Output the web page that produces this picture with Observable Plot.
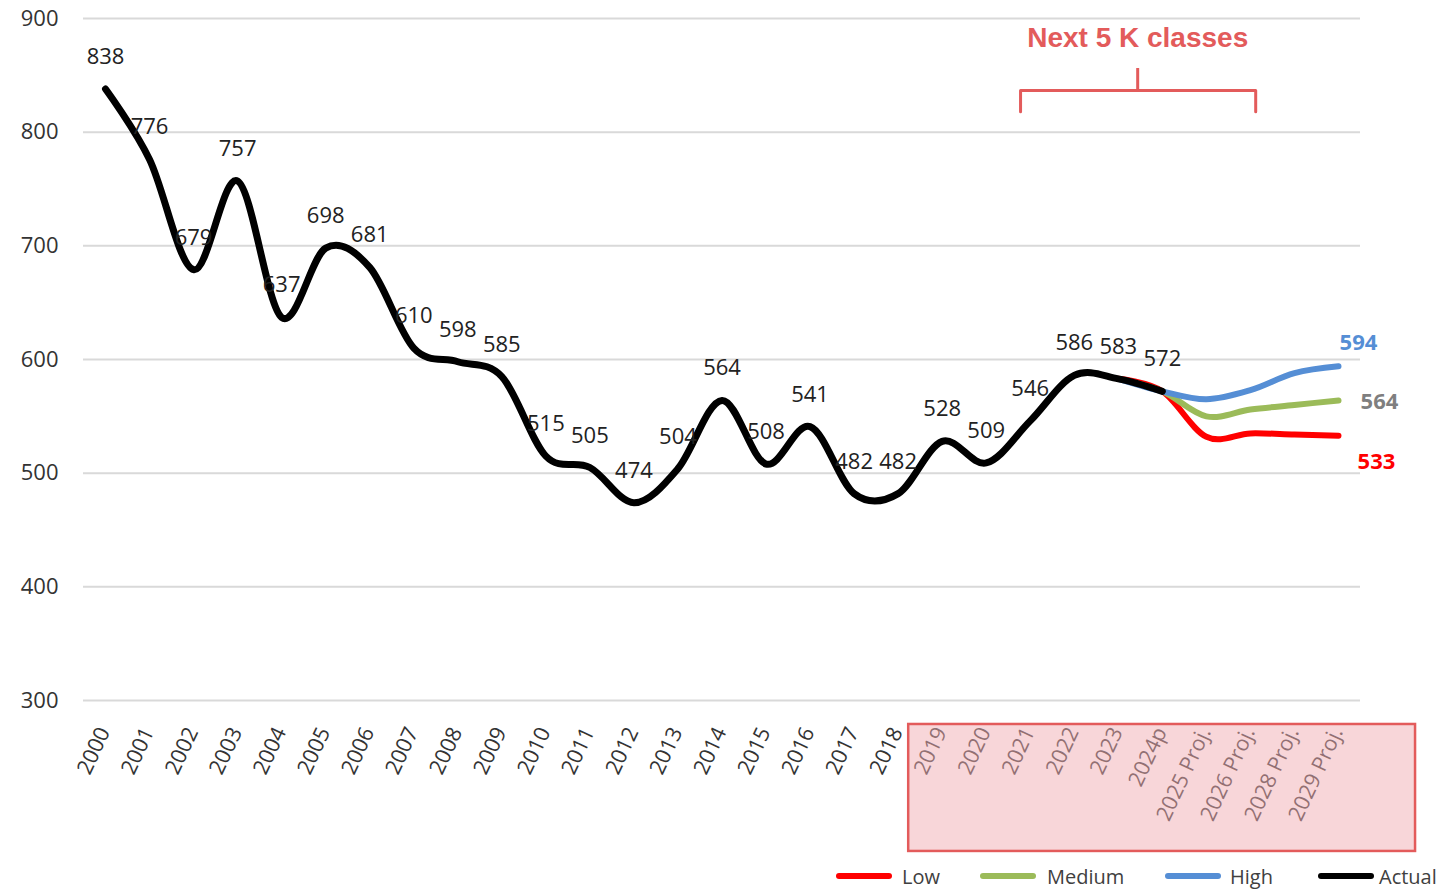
<!DOCTYPE html>
<html>
<head>
<meta charset="utf-8">
<script src="https://cdn.jsdelivr.net/npm/d3@7"></script>
<script src="https://cdn.jsdelivr.net/npm/@observablehq/plot@0.6"></script>
<style>
  html, body { margin: 0; padding: 0; background: #fff; }
  #wrap { position: relative; width: 1452px; height: 889px; font-family: 'Open Sans', sans-serif; }
  #legend { position: absolute; left: 0; top: 862px; width: 1452px; height: 28px; }
  .item { position: absolute; top: 0; height: 28px; display: flex; align-items: center; font-size: 20px; color: #404040; }
  .swatch { width: 56px; height: 6px; border-radius: 3px; }
</style>
</head>
<body>
<div id="wrap"><div id="chart"></div><div id="legend"></div></div>
<script>
// ---- Data ----
const categories = ["2000","2001","2002","2003","2004","2005","2006","2007","2008","2009",
  "2010","2011","2012","2013","2014","2015","2016","2017","2018","2019","2020","2021",
  "2022","2023","2024p","2025 Proj.","2026 Proj.","2028 Proj.","2029 Proj."];
const actualYears = categories.slice(0, 25);
const actualValues = [838,776,679,757,637,698,681,610,598,585,515,505,474,504,564,508,541,482,482,528,509,546,586,583,572];
const projYears = ["2023","2024p","2025 Proj.","2026 Proj.","2028 Proj.","2029 Proj."];
const lowValues = [583,572,532,535,534,533];
const mediumValues = [583,572,550,556,560,564];
const highValues = [583,572,565,573,588,594];
const yTicks = [300,400,500,600,700,800,900];
const seriesNames = ["Low","Medium","High","Actual"];
const seriesColors = ["#ff0000","#9bbb59","#558ed5","#000000"];
const annotationText = "Next 5 K classes";

const idx = c => categories.indexOf(c);
const actual = actualYears.map((c, i) => ({i: idx(c), v: actualValues[i]}));
const mk = vals => projYears.map((c, i) => ({i: idx(c), v: vals[i]}));
const low = mk(lowValues), medium = mk(mediumValues), high = mk(highValues);
const last = arr => [arr[arr.length - 1]];

const chart = Plot.plot({
  width: 1452,
  height: 860,
  marginLeft: 83,
  marginRight: 92,
  marginTop: 18,
  marginBottom: 160,
  style: {fontFamily: "'Open Sans', sans-serif", background: "#fff"},
  x: {type: "linear", domain: [-0.5, categories.length - 0.5], axis: null},
  y: {domain: [300, 900], axis: null},
  marks: [
    Plot.gridY(yTicks, {stroke: "#d9d9d9", strokeOpacity: 1, strokeWidth: 2}),
    Plot.axisY(yTicks, {tickSize: 0, tickPadding: 25, fontSize: 22, fill: "#333", tickFormat: d => d}),
    // x tick labels
    Plot.text(categories, {x: (d, i) => i, frameAnchor: "bottom", text: d => d, rotate: -65,
      textAnchor: "end", dx: 5, dy: 31, fontSize: 21.5, fill: "#333"}),
    // highlight box over projection years
    Plot.rect([0], {x1: 18.24, x2: 29.75, y1: 167.2, y2: 278.9,
      fill: "#f1aeb3", fillOpacity: 0.5, stroke: "#e35b5b", strokeWidth: 2.5}),
    // lines
    Plot.line(low, {x: "i", y: "v", stroke: seriesColors[0], strokeWidth: 6, curve: "cardinal", strokeLinecap: "round"}),
    Plot.line(medium, {x: "i", y: "v", stroke: seriesColors[1], strokeWidth: 6, curve: "cardinal", strokeLinecap: "round"}),
    Plot.line(high, {x: "i", y: "v", stroke: seriesColors[2], strokeWidth: 6, curve: "cardinal", strokeLinecap: "round"}),
    Plot.line(actual, {x: "i", y: "v", stroke: seriesColors[3], strokeWidth: 7, curve: "cardinal", strokeLinecap: "round"}),
    // data labels
    Plot.text(actual, {x: "i", y: "v", text: d => String(d.v), dy: -32, fontSize: 22, fill: "#222"}),
    Plot.text(last(high), {x: "i", y: "v", text: d => String(d.v), dx: 20, dy: -23, fontSize: 22, fontWeight: "bold", fill: "#558ed5"}),
    Plot.text(last(medium), {x: "i", y: "v", text: d => String(d.v), dx: 41, dy: 2, fontSize: 22, fontWeight: "bold", fill: "#7f7f7f"}),
    Plot.text(last(low), {x: "i", y: "v", text: d => String(d.v), dx: 38, dy: 26, fontSize: 22, fontWeight: "bold", fill: "#ff0000"}),
    // annotation bracket
    Plot.line([{x: 20.78, y: 818}, {x: 20.78, y: 836.7}, {x: 26.12, y: 836.7}, {x: 26.12, y: 818}],
      {x: "x", y: "y", stroke: "#e35b5b", strokeWidth: 3}),
    Plot.ruleX([23.44], {y1: 836.7, y2: 856, stroke: "#e35b5b", strokeWidth: 3}),
    Plot.text([annotationText], {x: 23.44, y: 882.4, text: d => d, fontSize: 28, fontWeight: "bold",
      fill: "#e35b5b", fontFamily: "'Liberation Sans', Arial, sans-serif"})
  ]
});
document.getElementById("chart").appendChild(chart);

// legend
const lefts = [836, 980, 1165, 1318];
const gaps = [10, 11, 9, 5];
const legend = document.getElementById("legend");
seriesNames.forEach((name, k) => {
  const it = document.createElement("div");
  it.className = "item";
  it.style.left = lefts[k] + "px";
  const sw = document.createElement("div");
  sw.className = "swatch";
  sw.style.background = seriesColors[k];
  sw.style.marginRight = gaps[k] + "px";
  const tx = document.createElement("span");
  tx.textContent = name;
  it.appendChild(sw); it.appendChild(tx);
  legend.appendChild(it);
});
</script>
</body>
</html>
